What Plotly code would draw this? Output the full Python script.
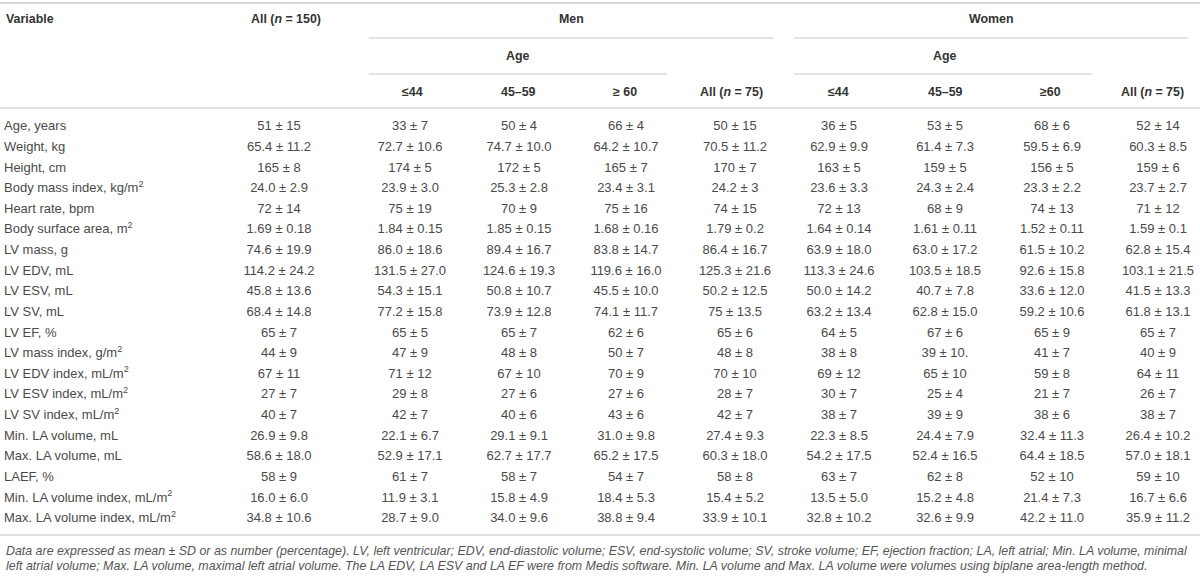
import plotly.graph_objects as go

# table content
variables = [
    "Age, years", "Weight, kg", "Height, cm", "Body mass index, kg/m<sup>2</sup>",
    "Heart rate, bpm", "Body surface area, m<sup>2</sup>", "LV mass, g", "LV EDV, mL",
    "LV ESV, mL", "LV SV, mL", "LV EF, %", "LV mass index, g/m<sup>2</sup>",
    "LV EDV index, mL/m<sup>2</sup>", "LV ESV index, mL/m<sup>2</sup>",
    "LV SV index, mL/m<sup>2</sup>", "Min. LA volume, mL", "Max. LA volume, mL",
    "LAEF, %", "Min. LA volume index, mL/m<sup>2</sup>",
    "Max. LA volume index, mL/m<sup>2</sup>",
]

all_150 = ["51 ± 15", "65.4 ± 11.2", "165 ± 8", "24.0 ± 2.9", "72 ± 14", "1.69 ± 0.18",
           "74.6 ± 19.9", "114.2 ± 24.2", "45.8 ± 13.6", "68.4 ± 14.8", "65 ± 7", "44 ± 9",
           "67 ± 11", "27 ± 7", "40 ± 7", "26.9 ± 9.8", "58.6 ± 18.0", "58 ± 9",
           "16.0 ± 6.0", "34.8 ± 10.6"]
men_le44 = ["33 ± 7", "72.7 ± 10.6", "174 ± 5", "23.9 ± 3.0", "75 ± 19", "1.84 ± 0.15",
            "86.0 ± 18.6", "131.5 ± 27.0", "54.3 ± 15.1", "77.2 ± 15.8", "65 ± 5", "47 ± 9",
            "71 ± 12", "29 ± 8", "42 ± 7", "22.1 ± 6.7", "52.9 ± 17.1", "61 ± 7",
            "11.9 ± 3.1", "28.7 ± 9.0"]
men_45_59 = ["50 ± 4", "74.7 ± 10.0", "172 ± 5", "25.3 ± 2.8", "70 ± 9", "1.85 ± 0.15",
             "89.4 ± 16.7", "124.6 ± 19.3", "50.8 ± 10.7", "73.9 ± 12.8", "65 ± 7", "48 ± 8",
             "67 ± 10", "27 ± 6", "40 ± 6", "29.1 ± 9.1", "62.7 ± 17.7", "58 ± 7",
             "15.8 ± 4.9", "34.0 ± 9.6"]
men_ge60 = ["66 ± 4", "64.2 ± 10.7", "165 ± 7", "23.4 ± 3.1", "75 ± 16", "1.68 ± 0.16",
            "83.8 ± 14.7", "119.6 ± 16.0", "45.5 ± 10.0", "74.1 ± 11.7", "62 ± 6", "50 ± 7",
            "70 ± 9", "27 ± 6", "43 ± 6", "31.0 ± 9.8", "65.2 ± 17.5", "54 ± 7",
            "18.4 ± 5.3", "38.8 ± 9.4"]
men_all = ["50 ± 15", "70.5 ± 11.2", "170 ± 7", "24.2 ± 3", "74 ± 15", "1.79 ± 0.2",
           "86.4 ± 16.7", "125.3 ± 21.6", "50.2 ± 12.5", "75 ± 13.5", "65 ± 6", "48 ± 8",
           "70 ± 10", "28 ± 7", "42 ± 7", "27.4 ± 9.3", "60.3 ± 18.0", "58 ± 8",
           "15.4 ± 5.2", "33.9 ± 10.1"]
women_le44 = ["36 ± 5", "62.9 ± 9.9", "163 ± 5", "23.6 ± 3.3", "72 ± 13", "1.64 ± 0.14",
              "63.9 ± 18.0", "113.3 ± 24.6", "50.0 ± 14.2", "63.2 ± 13.4", "64 ± 5", "38 ± 8",
              "69 ± 12", "30 ± 7", "38 ± 7", "22.3 ± 8.5", "54.2 ± 17.5", "63 ± 7",
              "13.5 ± 5.0", "32.8 ± 10.2"]
women_45_59 = ["53 ± 5", "61.4 ± 7.3", "159 ± 5", "24.3 ± 2.4", "68 ± 9", "1.61 ± 0.11",
               "63.0 ± 17.2", "103.5 ± 18.5", "40.7 ± 7.8", "62.8 ± 15.0", "67 ± 6", "39 ± 10.",
               "65 ± 10", "25 ± 4", "39 ± 9", "24.4 ± 7.9", "52.4 ± 16.5", "62 ± 8",
               "15.2 ± 4.8", "32.6 ± 9.9"]
women_ge60 = ["68 ± 6", "59.5 ± 6.9", "156 ± 5", "23.3 ± 2.2", "74 ± 13", "1.52 ± 0.11",
              "61.5 ± 10.2", "92.6 ± 15.8", "33.6 ± 12.0", "59.2 ± 10.6", "65 ± 9", "41 ± 7",
              "59 ± 8", "21 ± 7", "38 ± 6", "32.4 ± 11.3", "64.4 ± 18.5", "52 ± 10",
              "21.4 ± 7.3", "42.2 ± 11.0"]
women_all = ["52 ± 14", "60.3 ± 8.5", "159 ± 6", "23.7 ± 2.7", "71 ± 12", "1.59 ± 0.1",
             "62.8 ± 15.4", "103.1 ± 21.5", "41.5 ± 13.3", "61.8 ± 13.1", "65 ± 7", "40 ± 9",
             "64 ± 11", "26 ± 7", "38 ± 7", "26.4 ± 10.2", "57.0 ± 18.1", "59 ± 10",
             "16.7 ± 6.6", "35.9 ± 11.2"]

sub_headers = ["≤44", "45–59", "≥ 60", "All (<i>n</i> = 75)",
               "≤44", "45–59", "≥60", "All (<i>n</i> = 75)"]

footnote = [
    "Data are expressed as mean ± SD or as number (percentage). LV, left ventricular; EDV, "
    "end-diastolic volume; ESV, end-systolic volume; SV, stroke volume; EF, ejection fraction; "
    "LA, left atrial; Min. LA volume, minimal",
    "left atrial volume; Max. LA volume, maximal left atrial volume. The LA EDV, LA ESV and LA EF "
    "were from Medis software. Min. LA volume and Max. LA volume were volumes using biplane "
    "area-length method.",
]

# layout of the page (pixel-like axis units)
columns = [all_150, men_le44, men_45_59, men_ge60, men_all,
           women_le44, women_45_59, women_ge60, women_all]
col_x = [279, 410, 519, 626, 735, 839, 945, 1052, 1158]
sub_x = [412, 518, 625, 731, 838, 945, 1050, 1152]
row0, row_step = 127, 20.63
row_y = [row0 + i * row_step for i in range(len(variables))]

FONT = "Liberation Sans, Arial, Helvetica, sans-serif"
TXT = "#4a4a4a"
HDR = "#333333"
SIZE = 13

fig = go.Figure()

fig.add_trace(go.Scatter(
    x=[4] * len(variables), y=row_y, text=variables, mode="text",
    textposition="middle right", textfont=dict(family=FONT, size=SIZE, color=TXT),
    hoverinfo="skip", showlegend=False))

for cx, vals in zip(col_x, columns):
    fig.add_trace(go.Scatter(
        x=[cx] * len(vals), y=row_y, text=vals, mode="text",
        textposition="middle center", textfont=dict(family=FONT, size=SIZE, color=TXT),
        hoverinfo="skip", showlegend=False))

# header texts
hdr_font = dict(family=FONT, size=12.4, color=HDR)
headers = [
    (4, 19, "<b>Variable</b>", "left"),
    (286, 19, "<b>All (<i>n</i> = 150)</b>", "center"),
    (571, 19, "<b>Men</b>", "center"),
    (991, 19, "<b>Women</b>", "center"),
    (518, 56, "<b>Age</b>", "center"),
    (945, 56, "<b>Age</b>", "center"),
]
for sx, s in zip(sub_x, sub_headers):
    headers.append((sx, 92, "<b>" + s + "</b>", "center"))
for hx, hy, t, anc in headers:
    fig.add_annotation(x=hx, y=hy, text=t, xanchor=anc, yanchor="middle",
                       showarrow=False, font=hdr_font)

# footnote
for i, line in enumerate(footnote):
    fig.add_annotation(x=4, y=551 + i * 15, text="<i>" + line + "</i>", xanchor="left",
                       yanchor="middle", showarrow=False,
                       font=dict(family=FONT, size=12.4, color="#555555"))

# rules
rules = [
    (0, 1200, 3, "#d9d9d9", 2),
    (369, 773, 38, "#c8c8c8", 1),
    (794, 1188, 38, "#c8c8c8", 1),
    (369, 667, 74, "#c8c8c8", 1),
    (794, 1092, 74, "#c8c8c8", 1),
    (0, 1200, 108, "#e0e0e0", 2),
    (0, 1200, 535, "#e0e0e0", 2),
]
for x0, x1, yy, c, w in rules:
    fig.add_shape(type="line", x0=x0, x1=x1, y0=yy, y1=yy, xref="x", yref="y",
                  line=dict(color=c, width=w))

fig.update_layout(
    width=1200, height=576, margin=dict(l=0, r=0, t=0, b=0),
    paper_bgcolor="white", plot_bgcolor="white",
    xaxis=dict(range=[0, 1200], visible=False, fixedrange=True),
    yaxis=dict(range=[576, 0], visible=False, fixedrange=True),
)

# the page body has a default 8px margin; drop it so the figure fills the window
fig.write_html("out.html", config={"displayModeBar": False},
               post_script="document.body.style.margin='0';")
